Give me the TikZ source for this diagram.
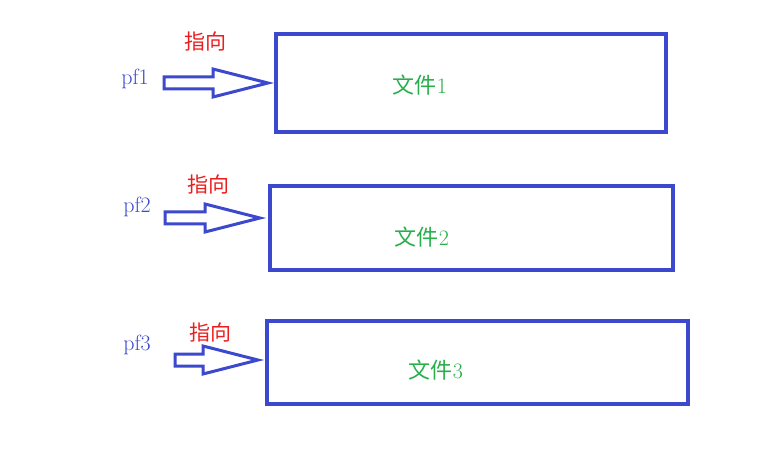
\documentclass[tikz,border=0pt]{standalone}
\usepackage{fontspec}
\newfontfamily\cjk{Noto Sans CJK SC}
\usetikzlibrary{positioning,calc}
\definecolor{frameblue}{RGB}{60,72,205}
\definecolor{filegreen}{RGB}{40,175,75}
\definecolor{pointred}{RGB}{235,30,30}
\newcommand{\hollowarrow}[2]{%
  \draw[arrowline] ($(#1)+(0,-6)$) -- ($(#2)+(-55,-6)$) -- ($(#2)+(-55,-14)$) -- (#2)
    -- ($(#2)+(-55,14)$) -- ($(#2)+(-55,6)$) -- ($(#1)+(0,6)$) -- cycle;}
\begin{document}
\begin{tikzpicture}[x=1pt,y=-1pt,
    filebox/.style={draw=frameblue,line width=3.5pt},
    arrowline/.style={draw=frameblue,line width=3pt,line join=miter},
    ptr/.style={text=frameblue,font=\fontsize{22}{24}\selectfont},
    verb/.style={text=pointred,font=\cjk\fontsize{21}{24}\selectfont},
    fname/.style={text=filegreen,font=\fontsize{22}{24}\selectfont}]
    \useasboundingbox (0,0) rectangle (769,465);

    % files
    \draw[filebox] (276,34) rectangle (666,132);
    \draw[filebox] (270,186) rectangle (673,270);
    \draw[filebox] (267,321) rectangle (688,404);
    \node[fname] (fileone) at (420,85) {{\cjk 文件}1};
    \node[fname] (filetwo) at (422,237) {{\cjk 文件}2};
    \node[fname] (filethree) at (436,370) {{\cjk 文件}3};

    % pointers
    \node[ptr] (pfone) at (135,79) {pf1};
    \node[ptr] (pftwo) at (137,207) {pf2};
    \node[ptr] (pfthree) at (137,345) {pf3};
    \node[verb] (verbone) at (205,42) {指向};
    \node[verb] (verbtwo) at (208,185) {指向};
    \node[verb] (verbthree) at (210,332) {指向};

    \coordinate (aone) at (164,83);   \coordinate (bone) at (268,83);
    \coordinate (atwo) at (165,218);  \coordinate (btwo) at (260,218);
    \coordinate (athree) at (175,360); \coordinate (bthree) at (258,360);
    \hollowarrow{aone}{bone}
    \hollowarrow{atwo}{btwo}
    \hollowarrow{athree}{bthree}
\end{tikzpicture}
\end{document}
